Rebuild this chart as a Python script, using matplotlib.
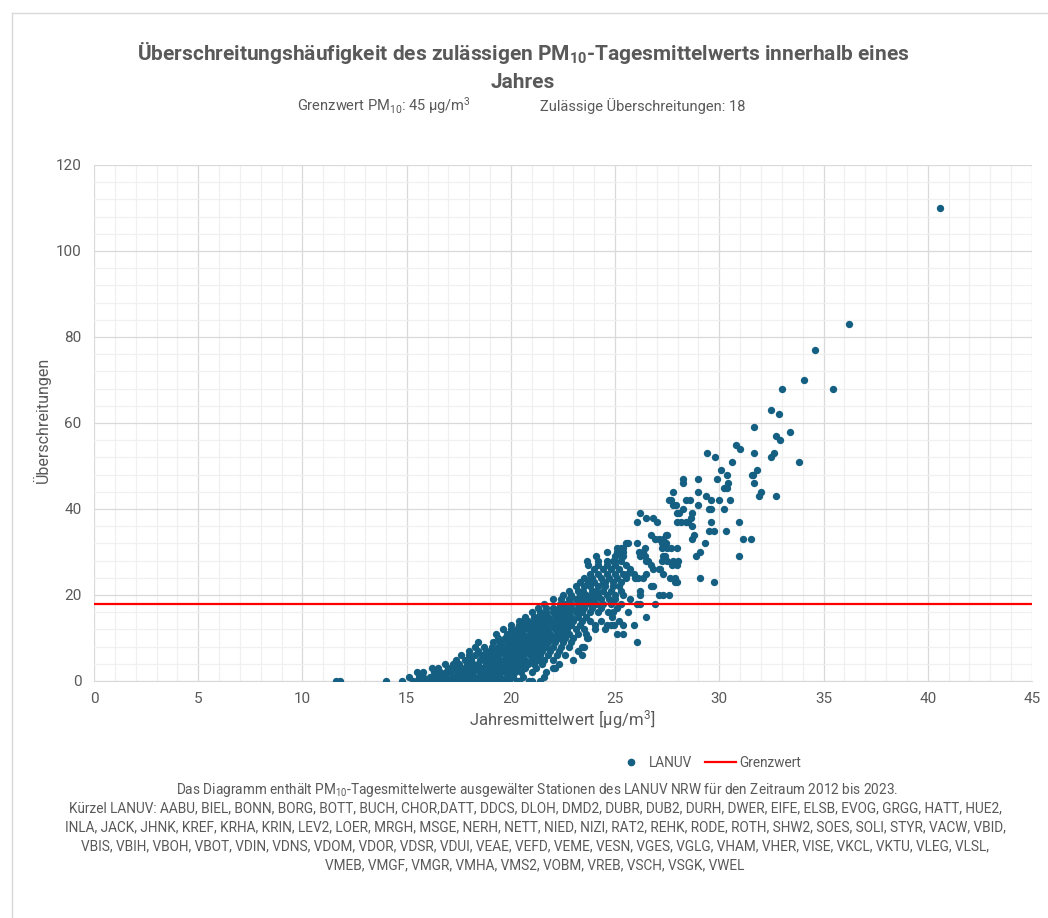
import matplotlib
matplotlib.use("Agg")
import matplotlib.pyplot as plt
from matplotlib import font_manager
from matplotlib.lines import Line2D
from matplotlib.ticker import MultipleLocator

# Überschreitungen (Tage) je Zeile und die zugehörigen Jahresmittelwerte
stufen = [0, 1, 2, 3, 4, 5, 6, 7, 8, 9, 10, 11, 12, 13, 14, 15, 16, 17, 18, 19,
          20, 21, 22, 23, 24, 25, 26, 27, 28, 29, 30, 31, 32, 33, 34, 35, 36, 37,
          38, 39, 40, 41, 42, 43, 44, 45, 46, 47, 48, 49, 51, 52, 53, 54, 55, 56,
          57, 58, 59, 62, 63, 68, 70, 77, 83, 110]

x_je_stufe = [
    [11.6, 11.8, 14.0, 14.8, 15.3, 15.5, 15.7, 15.9, 16.0, 16.2, 16.3, 16.5, 16.6, 16.8, 17.0, 17.1, 17.3, 17.4,
     17.6, 17.8, 17.9, 18.1, 18.3, 18.5, 18.7, 18.9, 19.1, 19.3, 19.6, 19.9, 20.3, 20.4, 20.85, 21.0, 21.4],
    [15.1, 15.6, 15.8, 16.1, 16.4, 16.7, 16.9, 17.2, 17.5, 17.7, 18.0, 18.2, 18.4, 18.6, 18.8, 19.0, 19.2, 19.5,
     19.8, 20.1, 20.6, 21.6],
    [15.5, 15.8, 16.3, 16.6, 16.9, 17.1, 17.4, 17.7, 17.9, 18.2, 18.5, 18.7, 19.0, 19.3, 19.5, 19.7, 20.0, 20.2,
     20.5, 21.0, 21.7],
    [16.2, 16.5, 17.0, 17.3, 17.6, 17.8, 18.1, 18.3, 18.6, 18.9, 19.1, 19.4, 19.6, 19.9, 20.2, 20.4, 20.7, 21.2,
     22.0, 22.1],
    [16.85, 17.2, 17.5, 17.9, 18.2, 18.4, 18.8, 19.0, 19.2, 19.5, 19.8, 20.0, 20.3, 20.5, 20.8, 21.1, 21.5, 22.3],
    [17.37, 17.8, 18.1, 18.5, 18.7, 19.0, 19.3, 19.5, 19.7, 20.0, 20.2, 20.5, 20.7, 21.0, 21.3, 21.6, 22.0, 23.0],
    [17.6, 18.0, 18.3, 18.6, 18.9, 19.2, 19.4, 19.7, 19.9, 20.1, 20.4, 20.6, 20.9, 21.2, 21.4, 21.8, 22.2, 22.6, 23.4],
    [18.0, 18.4, 18.8, 19.0, 19.3, 19.6, 19.8, 20.1, 20.3, 20.6, 20.8, 21.0, 21.3, 21.5, 21.9, 22.3, 23.24],
    [18.3, 18.7, 19.1, 19.4, 19.6, 19.9, 20.2, 20.4, 20.7, 20.9, 21.2, 21.4, 21.7, 22.0, 22.4, 22.8, 23.4, 23.5],
    [18.43, 19.13, 19.5, 19.8, 20.0, 20.3, 20.6, 20.8, 21.1, 21.3, 21.6, 21.8, 22.1, 22.5, 22.9, 26.04],
    [19.4, 19.7, 20.0, 20.2, 20.5, 20.7, 21.0, 21.2, 21.5, 21.7, 22.0, 22.3, 22.6, 23.0, 23.64, 23.7],
    [19.3, 19.8, 20.1, 20.4, 20.6, 20.9, 21.1, 21.4, 21.6, 21.9, 22.2, 22.5, 22.8, 23.2, 23.6, 25.1, 25.4],
    [19.6, 20.0, 20.3, 20.6, 20.8, 21.0, 21.3, 21.5, 21.8, 22.1, 22.4, 22.7, 23.1, 23.5, 24.04, 24.5],
    [20.0, 20.4, 20.7, 21.0, 21.2, 21.5, 21.7, 22.0, 22.3, 22.6, 22.9, 23.3, 24.04, 24.6, 24.8, 24.96, 25.4, 25.9],
    [20.4, 20.6, 20.8, 21.1, 21.4, 21.6, 21.9, 22.2, 22.4, 22.7, 23.0, 23.4, 23.8, 24.3, 25.2],
    [20.7, 21.1, 21.3, 21.6, 21.8, 22.1, 22.3, 22.6, 22.9, 23.2, 23.6, 24.85, 26.5],
    [21.0, 21.4, 21.7, 22.0, 22.2, 22.5, 22.8, 23.1, 23.4, 23.8, 24.2, 24.65, 24.9, 25.64],
    [21.3, 21.7, 22.0, 22.3, 22.6, 22.9, 23.2, 23.5, 23.9, 24.3, 25.1],
    [21.6, 22.36, 22.6, 22.9, 23.2, 23.5, 23.8, 24.1, 24.4, 24.8, 25.3, 26.04, 26.2, 26.9],
    [22.0, 22.4, 22.8, 23.1, 23.4, 23.7, 24.0, 24.3, 24.7, 25.0, 25.7],
    [22.5, 22.9, 23.3, 23.6, 23.9, 24.2, 24.6, 25.0, 25.4, 26.2, 27.1, 27.3, 27.57],
    [22.8, 23.2, 23.45, 23.9, 24.1, 24.4, 24.8, 25.3, 26.2],
    [23.1, 23.5, 23.8, 24.2, 24.5, 24.9, 25.2, 26.7, 26.8],
    [23.3, 23.7, 24.0, 24.4, 24.52, 24.9, 25.3, 27.85, 27.96, 29.75],
    [23.5, 23.83, 23.9, 24.3, 24.7, 25.1, 25.5, 25.96, 26.1, 26.36, 27.64, 27.85, 29.08],
    [23.8, 24.2, 24.6, 25.0, 25.4, 25.56, 25.9, 26.5, 27.3],
    [24.0, 24.4, 24.8, 25.2, 25.7, 26.84, 27.1, 27.16],
    [23.7, 24.2, 24.6, 25.0, 25.5, 26.7, 27.75, 27.95],
    [23.64, 24.18, 24.6, 24.9, 25.0, 25.3, 26.5, 26.57, 27.24, 27.5, 27.8, 28.0],
    [24.1, 25.0, 25.3, 25.4, 26.2, 26.45, 27.3, 27.4, 28.9, 30.96],
    [24.6, 25.1, 25.24, 25.4, 26.15, 26.36, 29.06],
    [25.08, 25.3, 25.4, 26.44, 27.24, 27.5, 27.7, 27.95],
    [25.5, 25.6, 26.04, 27.25, 27.45, 29.3],
    [26.9, 27.1, 27.3, 28.7, 31.15, 31.5],
    [26.7, 27.45, 27.5, 28.8],
    [29.5, 29.75, 30.3],
    [28.7],
    [26.04, 27.0, 27.95, 28.15, 28.4, 28.5, 29.6, 30.95],
    [26.5, 26.8, 28.66],
    [26.2, 27.95, 28.07, 28.7],
    [28.25, 29.5, 29.6, 30.2],
    [27.8, 27.9, 29.0],
    [27.6, 27.7, 28.4, 28.6, 29.6, 29.97, 30.5],
    [29.35, 31.9, 32.7],
    [27.8, 28.97, 32.0],
    [30.2, 30.35],
    [28.26, 30.4, 31.65],
    [28.26, 28.97, 29.9],
    [30.35, 31.55, 31.6],
    [30.1, 31.8],
    [30.6, 33.8],
    [29.8, 32.5],
    [29.4, 31.65, 32.6],
    [31.0],
    [30.8],
    [32.9],
    [32.7],
    [33.4],
    [31.65],
    [32.85],
    [32.5],
    [33.0, 35.44],
    [34.05],
    [34.6],
    [36.2],
    [40.6],
]

grenzwert_tage = 18

stationen = ("Kürzel LANUV: AABU, BIEL, BONN, BORG, BOTT, BUCH, CHOR,DATT, DDCS, DLOH, DMD2, DUBR, DUB2, DURH, DWER, EIFE, ELSB, EVOG, GRGG, HATT, HUE2,",
             "INLA, JACK, JHNK, KREF, KRHA, KRIN, LEV2, LOER, MRGH, MSGE, NERH, NETT, NIED, NIZI, RAT2, REHK, RODE, ROTH, SHW2, SOES, SOLI, STYR, VACW, VBID,",
             "VBIS, VBIH, VBOH, VBOT, VDIN, VDNS, VDOM, VDOR, VDSR, VDUI, VEAE, VEFD, VEME, VESN, VGES, VGLG, VHAM, VHER, VISE, VKCL, VKTU, VLEG, VLSL,",
             "VMEB, VMGF, VMGR, VMHA, VMS2, VOBM, VREB, VSCH, VSGK, VWEL")

x_werte = []
y_werte = []
for y, xs in zip(stufen, x_je_stufe):
    for x in xs:
        x_werte.append(x)
        y_werte.append(y)

installed = {f.name for f in font_manager.fontManager.ttflist}
narrow = "Liberation Sans Narrow" if "Liberation Sans Narrow" in installed else "Roboto"
base = "Roboto"
plt.rcParams["font.family"] = [base, "DejaVu Sans"]
plt.rcParams["mathtext.fontset"] = "custom"
plt.rcParams["mathtext.rm"] = base
plt.rcParams["mathtext.it"] = base
plt.rcParams["mathtext.bf"] = base + ":bold"

grau = "#595959"
blau = "#156082"

fig = plt.figure(figsize=(10.48, 9.18), dpi=100)
ax = fig.add_axes([94/1048, 1-681/918, (1032-94)/1048, (681-165)/918])

ax.scatter(x_werte, y_werte, s=28, color=blau, linewidths=0, zorder=3)
ax.axhline(grenzwert_tage, color="#ff0000", lw=1.6, zorder=4)

ax.set_xlim(0, 45)
ax.set_ylim(0, 120)
ax.xaxis.set_major_locator(MultipleLocator(5))
ax.xaxis.set_minor_locator(MultipleLocator(1))
ax.yaxis.set_major_locator(MultipleLocator(20))
ax.yaxis.set_minor_locator(MultipleLocator(4))
ax.grid(which="major", color="#d9d9d9", lw=0.9, zorder=1)
ax.grid(which="minor", color="#f0f0f0", lw=0.9, zorder=0)
ax.set_axisbelow(True)
for s in ["top", "right", "left"]:
    ax.spines[s].set_visible(False)
ax.spines["bottom"].set_color("#d9d9d9")
ax.tick_params(which="both", length=0, colors=grau, labelsize=11)
ax.tick_params(axis="y", pad=9)
ax.tick_params(axis="x", pad=8)

fig.text(523/1048, 1-53/918, "Überschreitungshäufigkeit des zulässigen PM$_\\mathbf{10}$-Tagesmittelwerts innerhalb eines",
         ha="center", va="center", fontsize=15, fontweight="bold", color=grau, family=narrow)
fig.text(523/1048, 1-82/918, "Jahres", ha="center", va="center", fontsize=15,
         fontweight="bold", color=grau, family=narrow)
fig.text(384/1048, 1-106/918, "Grenzwert PM$_{10}$: 45 µg/m$^3$", ha="center", va="center",
         fontsize=10.5, color=grau)
fig.text(643/1048, 1-106/918, "Zulässige Überschreitungen: 18", ha="center", va="center",
         fontsize=10.5, color=grau)

fig.text(42/1048, 1-420/918, "Überschreitungen", rotation=90, ha="center", va="center",
         fontsize=11.5, color=grau)
fig.text(562/1048, 1-720/918, "Jahresmittelwert [µg/m$^3$]", ha="center", va="center",
         fontsize=12, color=grau)

handles = [Line2D([], [], ls="none", marker="o", ms=4.5, color=blau, mec=blau),
           Line2D([], [], color="#ff0000", lw=1.6)]
fig.legend(handles, ["LANUV", "Grenzwert"], loc="center", bbox_to_anchor=(708/1048, 1-763/918),
           ncol=2, frameon=False, fontsize=9.8, labelcolor=grau, handlelength=2.3,
           handletextpad=0.2, columnspacing=0.9)

fig.text(537/1048, 1-790/918,
         "Das Diagramm enthält PM$_{10}$-Tagesmittelwerte ausgewälter Stationen des LANUV NRW für den Zeitraum 2012 bis 2023.",
         ha="center", va="center", fontsize=9.8, color=grau, family=narrow)
for i, zeile in enumerate(stationen):
    fig.text(535/1048, 1-(808 + 19*i)/918, zeile, ha="center", va="center",
             fontsize=9.8, color=grau, family=narrow)

# Rahmen des Diagrammbereichs
fig.add_artist(Line2D([12/1048, 1], [1-13/918, 1-13/918], color="#d9d9d9", lw=1, transform=fig.transFigure))
fig.add_artist(Line2D([12/1048, 12/1048], [0, 1-13/918], color="#d9d9d9", lw=1, transform=fig.transFigure))

fig.savefig("out.png", dpi=100)
